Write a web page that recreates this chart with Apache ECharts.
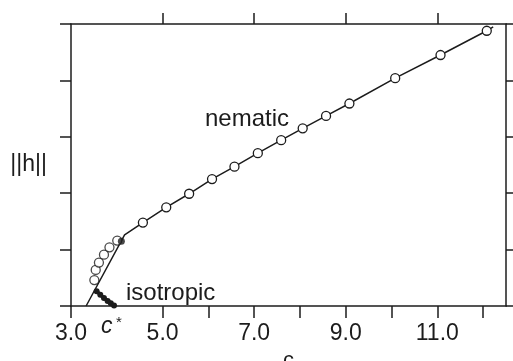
<!DOCTYPE html>
<html>
<head>
<meta charset="utf-8">
<script src="https://cdn.jsdelivr.net/npm/echarts@6/dist/echarts.min.js"></script>
<style>
  html, body { margin: 0; padding: 0; background: #fff; }
  #chart { width: 513px; height: 361px; }
</style>
</head>
<body>
<div id="chart"></div>
<script>
// values
var nematicLine = [[3.33, 0], [4.17, 1.26]];
var nematicC = [4.57, 5.08, 5.58, 6.08, 6.57, 7.08, 7.59, 8.06, 8.57, 9.08, 10.08, 11.07, 12.08];
var nematicH = [1.48, 1.75, 1.99, 2.25, 2.47, 2.71, 2.94, 3.15, 3.37, 3.59, 4.04, 4.45, 4.88];
var nematicEnd = [12.22, 4.95];
var lowC = [3.51, 3.54, 3.61, 3.72, 3.84, 4.01];
var lowH = [0.46, 0.64, 0.77, 0.91, 1.04, 1.16];
var isoC = [3.56, 3.64, 3.72, 3.80, 3.87, 3.94];
var isoH = [0.26, 0.20, 0.14, 0.09, 0.05, 0.01];
var kinkDot = [4.10, 1.15];
var bottomTicks = [3, 5, 6, 7, 8, 9, 10, 11, 12];
var bottomLabels = [3, 5, 7, 9, 11];
var topTicks = [5, 7, 9, 11];

var ink = '#1c1c1c';
var font = 'Liberation Sans, Helvetica, Arial, sans-serif';

var lineData = nematicLine.map(function (p) { return { value: p, symbol: 'none' }; });
for (var i = 0; i < nematicC.length; i++) lineData.push([nematicC[i], nematicH[i]]);
lineData.push({ value: nematicEnd, symbol: 'none' });

var lowData = lowC.map(function (c, i) { return [c, lowH[i]]; });
var isoData = isoC.map(function (c, i) { return [c, isoH[i]]; });

var chart = echarts.init(document.getElementById('chart'));
chart.setOption({
  animation: false,
  backgroundColor: '#fff',
  grid: { left: 71, right: 7, top: 24, bottom: 55, outerBoundsMode: 'none', containLabel: false },
  xAxis: [
    {
      type: 'value', min: 3, max: 12.5, position: 'bottom',
      name: 'c', nameLocation: 'middle', nameGap: 42,
      nameTextStyle: { color: ink, fontSize: 22, fontFamily: font },
      axisLine: { show: true, onZero: false, lineStyle: { color: ink, width: 1.5 } },
      axisTick: { show: true, inside: false, length: 12, customValues: bottomTicks, lineStyle: { color: ink, width: 1.5 } },
      axisLabel: {
        customValues: bottomLabels, margin: 16, color: ink, fontSize: 23, fontFamily: font,
        formatter: function (v) { return v.toFixed(1); }
      },
      splitLine: { show: false }
    },
    {
      type: 'value', min: 3, max: 12.5, position: 'top',
      axisLine: { show: true, onZero: false, lineStyle: { color: ink, width: 1.5 } },
      axisTick: { show: true, inside: false, length: 11, customValues: topTicks, lineStyle: { color: ink, width: 1.5 } },
      axisLabel: { show: false },
      splitLine: { show: false }
    }
  ],
  yAxis: [
    {
      type: 'value', min: 0, max: 5, interval: 1, position: 'left',
      name: '||h||', nameLocation: 'middle', nameRotate: 0, nameGap: 24,
      nameTextStyle: { color: ink, fontSize: 23, fontFamily: font },
      axisLine: { show: true, onZero: false, lineStyle: { color: ink, width: 1.5 } },
      axisTick: { show: true, inside: false, length: 11, lineStyle: { color: ink, width: 1.5 } },
      axisLabel: { show: false },
      splitLine: { show: false }
    },
    {
      type: 'value', min: 0, max: 5, interval: 1, position: 'right',
      axisLine: { show: true, onZero: false, lineStyle: { color: ink, width: 1.5 } },
      axisTick: { show: true, inside: false, length: 10, lineStyle: { color: ink, width: 1.5 } },
      axisLabel: { show: false },
      splitLine: { show: false }
    }
  ],
  series: [
    {
      type: 'line', data: lineData, symbol: 'circle', symbolSize: 9, showAllSymbol: true,
      lineStyle: { color: ink, width: 1.5 },
      itemStyle: { color: '#fff', borderColor: ink, borderWidth: 1.3 },
      z: 3
    },
    {
      type: 'scatter', data: lowData, symbol: 'circle', symbolSize: 9,
      itemStyle: { color: '#fff', borderColor: ink, borderWidth: 1.3 },
      z: 4
    },
    {
      type: 'line', data: isoData, symbol: 'circle', symbolSize: 6, showAllSymbol: true,
      lineStyle: { color: ink, width: 3.5 },
      itemStyle: { color: ink },
      z: 5
    },
    {
      type: 'scatter', data: [kinkDot], symbol: 'circle', symbolSize: 7,
      itemStyle: { color: ink },
      z: 5
    }
  ],
  graphic: [
    { type: 'text', left: 205, top: 107, style: { text: 'nematic', fill: ink, fontSize: 24, fontFamily: font } },
    { type: 'text', left: 126, top: 281, style: { text: 'isotropic', fill: ink, fontSize: 24, fontFamily: font } },
    { type: 'text', left: 101, top: 315, style: { text: 'c', fill: ink, fontSize: 23, fontStyle: 'italic', fontFamily: font } },
    { type: 'text', left: 116, top: 315, style: { text: '*', fill: ink, fontSize: 15, fontFamily: font } }
  ]
});
</script>
</body>
</html>
